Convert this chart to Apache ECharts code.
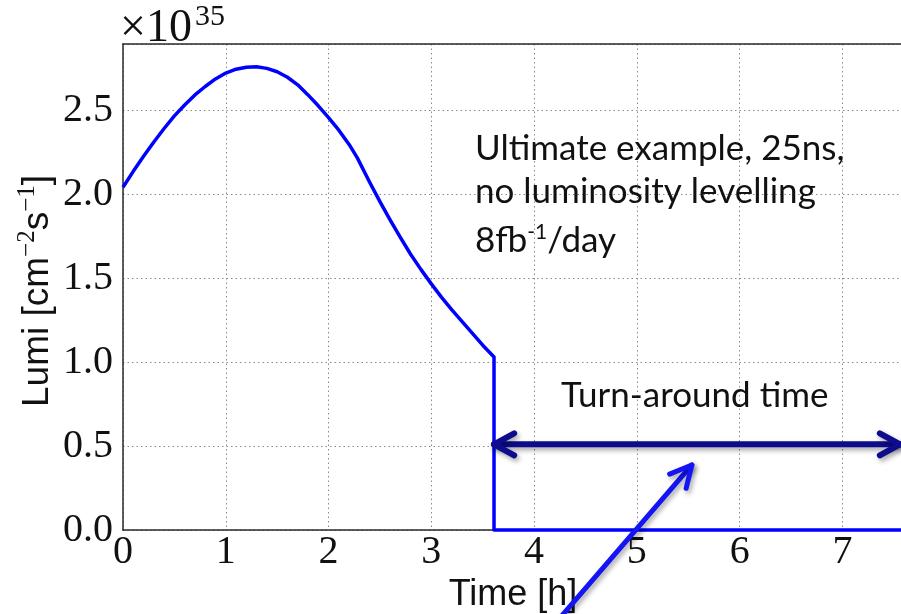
<!DOCTYPE html>
<html>
<head>
<meta charset="utf-8">
<script src="https://cdn.jsdelivr.net/npm/echarts@6/dist/echarts.min.js"></script>
<style>
  html, body { margin: 0; padding: 0; background: #ffffff; }
  #chart { width: 901px; height: 614px; }
</style>
</head>
<body>
<div id="chart"></div>
<script>
// Luminosity during one fill (units of 1e35 cm^-2 s^-1) versus time in hours
const timeH = [0.0, 0.1, 0.2, 0.3, 0.4, 0.5, 0.6, 0.7, 0.8, 0.9, 1.0, 1.1, 1.2, 1.3, 1.4, 1.5,
               1.6, 1.7, 1.8, 1.9, 2.0, 2.1, 2.2, 2.28, 2.4, 2.5, 2.6, 2.7, 2.8, 2.9, 3.0,
               3.1, 3.2, 3.3, 3.4, 3.5, 3.61, 3.61, 7.57];
const lumi  = [2.04, 2.135, 2.225, 2.31, 2.39, 2.465, 2.53, 2.59, 2.64, 2.685, 2.72, 2.743, 2.755, 2.757, 2.748, 2.728,
               2.695, 2.65, 2.59, 2.525, 2.455, 2.38, 2.295, 2.215, 2.07, 1.955, 1.845, 1.74, 1.64, 1.55, 1.465,
               1.385, 1.31, 1.24, 1.17, 1.10, 1.03, 0.0, 0.0];

// Axis ranges and ticks
const xTicks = [0, 1, 2, 3, 4, 5, 6, 7];
const yTicks = [0.0, 0.5, 1.0, 1.5, 2.0, 2.5];
const xMax = 7.57;
const yMax = 2.893;

// Annotation arrows (time [h], lumi [1e35])
const turnaroundArrow = [[3.61, 0.51], [7.57, 0.51]];
const pointerArrow = [[4.2, -0.56], [5.535, 0.387]];

const serif = '"Liberation Serif", "DejaVu Serif", serif';
const sans = '"Liberation Sans", Arial, sans-serif';
const note = 'Lato, "Open Sans", sans-serif';

const chart = echarts.init(document.getElementById('chart'), null, { renderer: 'canvas' });

const gridLine = { show: true, lineStyle: { color: '#8a8a8a', width: 1, type: [1.5, 3] } };
const frameLine = { show: true, onZero: false, lineStyle: { color: '#2a2a2a', width: 1.5 } };

chart.setOption({
  animation: false,
  backgroundColor: '#ffffff',
  grid: { left: 123, top: 44, right: 0, bottom: 84, containLabel: false, outerBoundsMode: 'none' },
  xAxis: [{
    type: 'value', min: 0, max: xMax, interval: 1,
    axisLine: frameLine, axisTick: { show: false }, splitLine: gridLine,
    axisLabel: {
      show: true, margin: 2, showMaxLabel: false,
      fontFamily: serif, fontSize: 40, color: '#111',
      formatter: v => (xTicks.includes(v) ? String(v) : '')
    }
  }, {
    type: 'value', position: 'top', min: 0, max: xMax, interval: 1,
    axisLine: frameLine, axisTick: { show: false }, splitLine: { show: false },
    axisLabel: { show: false }
  }],
  yAxis: {
    type: 'value', min: 0, max: yMax, interval: 0.5,
    axisLine: frameLine, axisTick: { show: false }, splitLine: gridLine,
    axisLabel: {
      show: true, margin: 10, showMaxLabel: false,
      fontFamily: serif, fontSize: 40, color: '#111',
      formatter: v => (yTicks.some(t => Math.abs(t - v) < 1e-9) ? v.toFixed(1) : '')
    }
  },
  series: [{
    type: 'line',
    data: timeH.map((t, i) => [t, lumi[i]]),
    showSymbol: false,
    clip: false,
    z: 5,
    lineStyle: { color: '#0000ff', width: 3.5, join: 'round' }
  }]
});

// Arrow helpers: shaft plus open chevron head(s), placed in pixel space from data coords
function chevron(tip, from, len, half) {
  const ang = Math.atan2(from[1] - tip[1], from[0] - tip[0]);
  return [
    [tip[0] + len * Math.cos(ang + half), tip[1] + len * Math.sin(ang + half)],
    tip,
    [tip[0] + len * Math.cos(ang - half), tip[1] + len * Math.sin(ang - half)]
  ];
}

const shadow = { shadowBlur: 5, shadowColor: 'rgba(0,0,0,0.35)', shadowOffsetX: 2, shadowOffsetY: 3 };

const ta0 = chart.convertToPixel({ xAxisIndex: 0, yAxisIndex: 0 }, turnaroundArrow[0]);
const ta1 = chart.convertToPixel({ xAxisIndex: 0, yAxisIndex: 0 }, turnaroundArrow[1]);
ta1[0] -= 1;
const pa0 = chart.convertToPixel({ xAxisIndex: 0, yAxisIndex: 0 }, pointerArrow[0]);
const pa1 = chart.convertToPixel({ xAxisIndex: 0, yAxisIndex: 0 }, pointerArrow[1]);

const navy = { stroke: '#0c0c8c', lineWidth: 6, lineCap: 'round', lineJoin: 'round', fill: null, ...shadow };
const blue = { stroke: '#1414f5', lineWidth: 5, lineCap: 'round', lineJoin: 'round', fill: null, ...shadow };

function label(x, y, text, size, family, extra) {
  return {
    type: 'text', x, y,
    style: Object.assign({ text, fontSize: size, fontFamily: family, fill: '#111', verticalAlign: 'middle' }, extra || {})
  };
}

chart.setOption({
  graphic: [
    // ×10^35 offset marker
    label(120, 29, '×10', 46, serif),
    label(195, 17, '35', 30, serif),
    // y axis title
    {
      type: 'text', x: 33, y: 291, rotation: Math.PI / 2,
      style: {
        text: '{t|Lumi [cm}{s|−2}{t|s}{s|−1}{t|]}',
        align: 'center', verticalAlign: 'middle', fill: '#111',
        rich: {
          t: { fontFamily: sans, fontSize: 37, verticalAlign: 'bottom', lineHeight: 47 },
          s: { fontFamily: serif, fontSize: 25, verticalAlign: 'bottom', lineHeight: 25, padding: [0, 0, 17, 0] }
        }
      }
    },
    // x axis title
    label(513, 595, 'Time [h]', 36, sans, { align: 'center' }),
    // notes
    label(475, 149, 'Ultimate example, 25ns,', 35, note),
    label(475, 192, 'no luminosity levelling', 35, note),
    {
      type: 'text', x: 475, y: 237,
      style: {
        text: '{b|8fb}{s|-1}{b|/day}', verticalAlign: 'middle', fill: '#111',
        rich: {
          b: { fontFamily: note, fontSize: 35, verticalAlign: 'bottom', lineHeight: 42 },
          s: { fontFamily: note, fontSize: 21, verticalAlign: 'bottom', lineHeight: 21, padding: [0, 0, 15, 0] }
        }
      }
    },
    label(561, 396, 'Turn-around time', 35, note),
    // turn-around double arrow
    { type: 'polyline', z: 20, shape: { points: [ta0, ta1] }, style: navy },
    { type: 'polyline', z: 20, shape: { points: chevron(ta0, ta1, 23, 0.5) }, style: navy },
    { type: 'polyline', z: 20, shape: { points: chevron(ta1, ta0, 23, 0.5) }, style: navy },
    // pointer arrow
    { type: 'polyline', z: 20, shape: { points: [pa0, pa1] }, style: blue },
    { type: 'polyline', z: 20, shape: { points: chevron(pa1, pa0, 24, 0.47) }, style: blue }
  ]
});
</script>
</body>
</html>
